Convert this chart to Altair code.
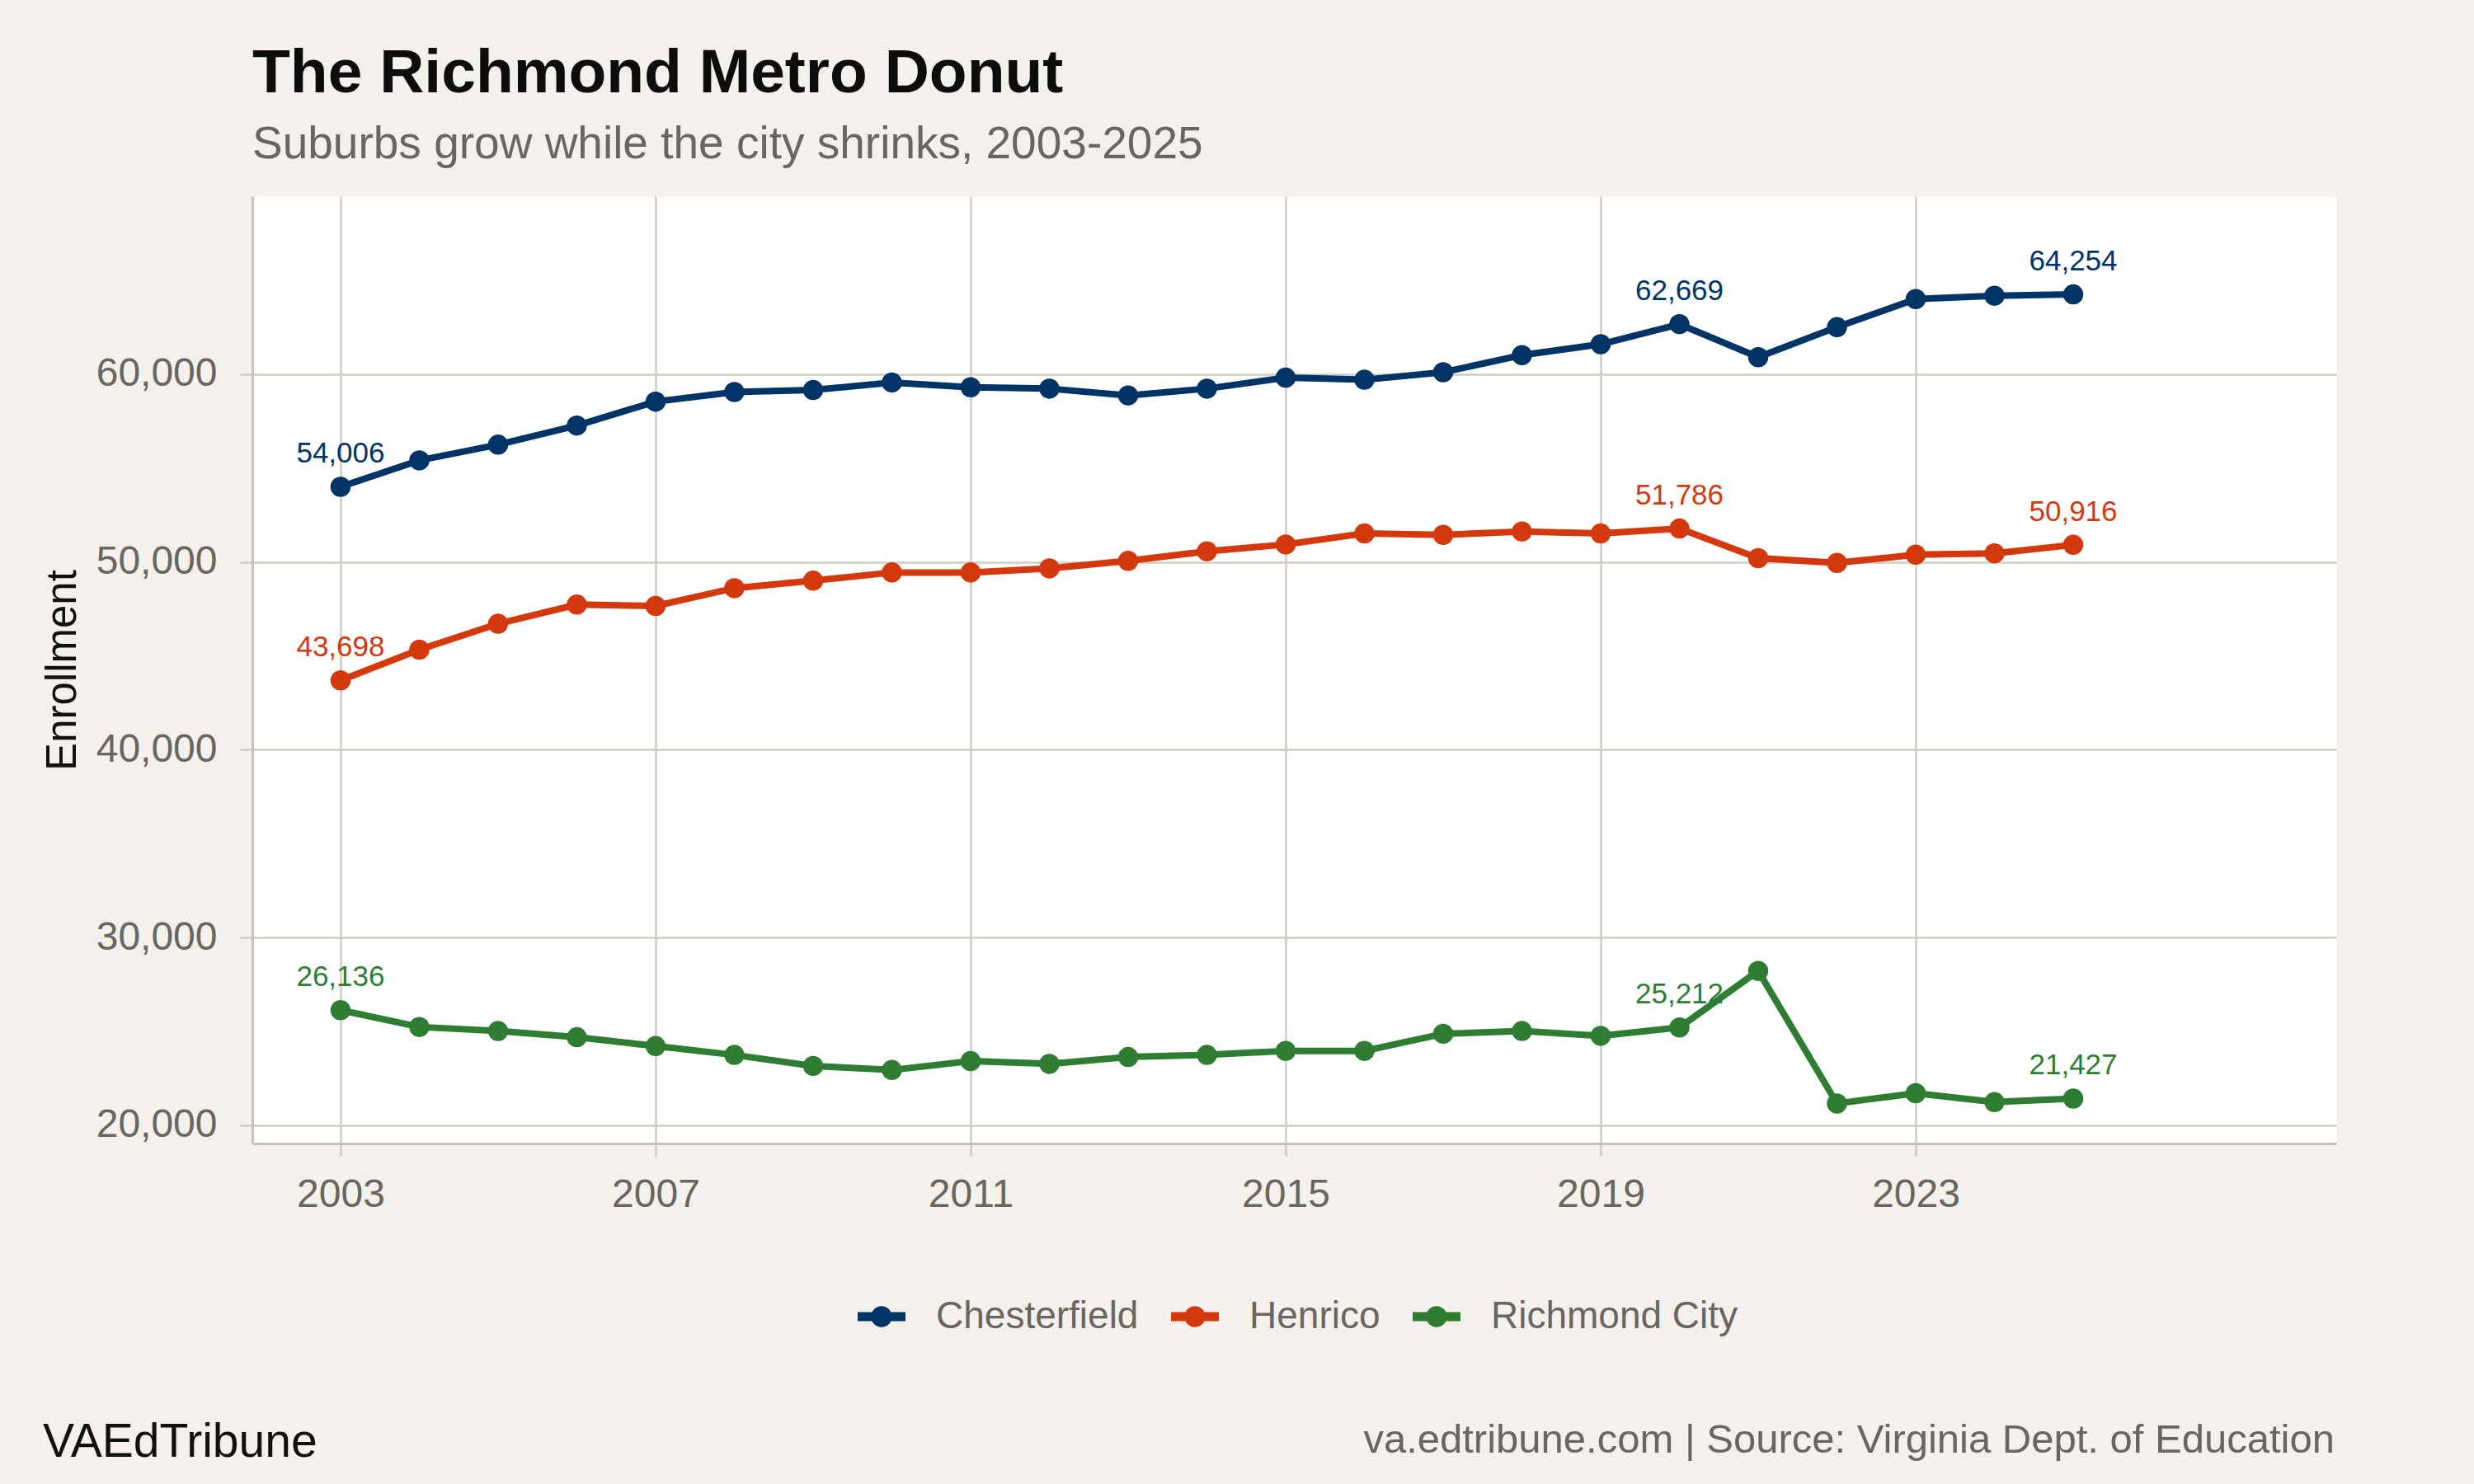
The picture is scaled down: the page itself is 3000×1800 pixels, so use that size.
import altair as alt
import pandas as pd

# ---- data ----
years = list(range(2003, 2026))
chesterfield = [54006, 55414, 56251, 57270, 58544, 59054, 59163, 59563, 59308, 59236,
                58872, 59236, 59818, 59709, 60109, 61019, 61601, 62669, 60910, 62511,
                64004, 64186, 64254]
henrico = [43698, 45332, 46715, 47734, 47661, 48608, 49008, 49445, 49445, 49663,
           50064, 50573, 50937, 51520, 51447, 51629, 51520, 51786, 50209, 49954,
           50391, 50464, 50916]
richmond_city = [26136, 25241, 25023, 24695, 24222, 23749, 23166, 22948, 23421, 23276,
                 23639, 23749, 23967, 23967, 24877, 25023, 24768, 25212, 28226, 21165,
                 21711, 21237, 21427]
divisions = ["Chesterfield", "Henrico", "Richmond City"]
colors = ["#003366", "#D4380D", "#2E7D32"]
label_years = [2003, 2020, 2025]
x_ticks = [2003, 2007, 2011, 2015, 2019, 2023]
y_ticks = [20000, 30000, 40000, 50000, 60000]

title_text = "The Richmond Metro Donut"
subtitle_text = "Suburbs grow while the city shrinks, 2003-2025"
footer_left = ["VAEdTribune"]
footer_right = ["va.edtribune.com | Source: Virginia Dept. of Education"]

# ---- tables ----
rows = []
for name, series in zip(divisions, [chesterfield, henrico, richmond_city]):
    for yr, v in zip(years, series):
        rows.append({"Year": yr, "Division": name, "Enrollment": v})
df = pd.DataFrame(rows)

FONT = "Liberation Sans"
GRAY = "#69655f"
GRID = "#cfcac3"
BG = "#f4f1ec"

x_enc = alt.X("Year:Q",
              scale=alt.Scale(domain=[2001.88, 2028.34], nice=False, zero=False),
              axis=alt.Axis(values=x_ticks, format="d", title=None,
                            labelFontSize=48, labelColor=GRAY, labelFont=FONT,
                            tickSize=15, labelPadding=23))
y_enc = alt.Y("Enrollment:Q",
              scale=alt.Scale(domain=[19034, 69483], nice=False, zero=False),
              axis=alt.Axis(values=y_ticks, format=",d", title="Enrollment",
                            labelFontSize=48, labelColor=GRAY, labelFont=FONT,
                            tickSize=15, labelPadding=28,
                            titleFontSize=51, titleFont=FONT, titleFontWeight="normal",
                            titleColor="#111111", titlePadding=14))
color_scale = alt.Scale(domain=divisions, range=colors)

legend_symbol = ("M-1,-0.19L1,-0.19L1,0.19L-1,0.19Z "
                 "M0.44,0A0.44,0.44 0 1,1 -0.44,0A0.44,0.44 0 1,1 0.44,0Z")

legend = alt.Legend(orient="none", legendX=734, legendY=1330,
                    direction="horizontal", columns=3, title=None,
                    symbolType=legend_symbol, symbolSize=3364,
                    symbolStrokeWidth=0, symbolOpacity=1,
                    labelFontSize=46, labelFont=FONT, labelColor=GRAY,
                    labelLimit=800, labelOffset=37, columnPadding=39)
color_enc = alt.Color("Division:N", scale=color_scale, legend=legend)

base = alt.Chart(df)

lines = base.mark_line(strokeWidth=8).encode(x=x_enc, y=y_enc, color=color_enc)

points = base.mark_point(filled=True, size=600, opacity=1).encode(
    x=x_enc, y=y_enc, color=color_enc)

labels = base.transform_filter(
    alt.FieldOneOfPredicate(field="Year", oneOf=label_years)
).mark_text(dy=-29, baseline="alphabetic", align="center", fontSize=35, font=FONT).encode(
    x=x_enc, y=y_enc,
    text=alt.Text("Enrollment:Q", format=","),
    color=color_enc,
)

left_note = alt.Chart(pd.DataFrame({"t": footer_left})).mark_text(
    align="left", baseline="alphabetic", fontSize=57, font=FONT, color="#111111"
).encode(x=alt.value(-254), y=alt.value(1529), text="t:N")

right_note = alt.Chart(pd.DataFrame({"t": footer_right})).mark_text(
    align="right", baseline="alphabetic", fontSize=49, font=FONT, color=GRAY
).encode(x=alt.value(2525), y=alt.value(1524), text="t:N")

chart = alt.layer(lines, points, labels, left_note, right_note).properties(
    width=2527, height=1149,
    title=alt.TitleParams(text=title_text, subtitle=subtitle_text, anchor="start",
                          frame="group", fontSize=75, fontWeight="bold", font=FONT,
                          color="#0d0d0d", subtitleFontSize=55, subtitleFont=FONT,
                          subtitleColor=GRAY, subtitlePadding=21, offset=34),
    autosize=alt.AutoSizeParams(type="none"),
    padding={"left": 306, "top": 238, "right": 167, "bottom": 413},
    background=BG,
).configure_view(
    fill="white", stroke="transparent"
).configure_axis(
    gridColor=GRID, gridWidth=2.5, domainColor="#c6c1b9", domainWidth=3,
    tickColor=GRID, tickWidth=2.5,
)

chart.save("out.html", embed_options={"renderer": "svg", "actions": False})
